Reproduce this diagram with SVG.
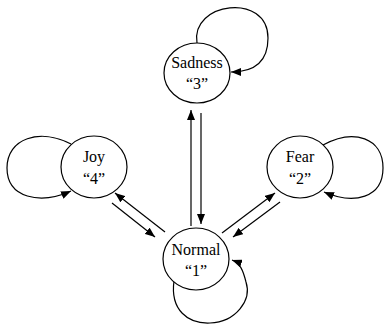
<svg xmlns="http://www.w3.org/2000/svg" width="385" height="326" viewBox="0 0 385 326">
<style>
.node{fill:#fff;stroke:#000;stroke-width:1.2}
.t{font-size:16px;fill:#000;text-anchor:middle}
.c{fill:none;stroke:#000;stroke-width:1.2}
</style>
<defs>
<marker id="a" viewBox="0 0 10 8" refX="10" refY="4" markerWidth="10" markerHeight="8" markerUnits="userSpaceOnUse" orient="auto">
<path d="M0,0L10,4L0,8z" fill="#000"/>
</marker>
</defs>
<rect width="385" height="326" fill="#fff"/>
<g id="connectors">
<path class="c" d="M197,43 C190,2 268,-8 268,38 C268,65 250,72 231,72" marker-end="url(#a)"/>
<path class="c" d="M71,144 C40,128 7,138 7,168 C7,198 40,205 71,191" marker-end="url(#a)"/>
<path class="c" d="M323,145 C354,128 383,138 383,168 C383,198 354,205 324,192" marker-end="url(#a)"/>
<path class="c" d="M174,281 C170,310 188,324 210,323 C236,322 252,300 246,282 C243,270 240,263 232,260" marker-end="url(#a)"/>
<line class="c" x1="191" y1="226" x2="191" y2="110" marker-end="url(#a)"/>
<line class="c" x1="201" y1="113" x2="201" y2="224" marker-end="url(#a)"/>
<line class="c" x1="165" y1="232" x2="115" y2="193" marker-end="url(#a)"/>
<line class="c" x1="112" y1="203" x2="155" y2="237" marker-end="url(#a)"/>
<line class="c" x1="222" y1="233" x2="275" y2="193" marker-end="url(#a)"/>
<line class="c" x1="280" y1="202" x2="233" y2="237" marker-end="url(#a)"/>
</g>
<g id="sadness">
<ellipse class="node" cx="197" cy="73" rx="33" ry="30"/>
<text class="t" x="197" y="68" style="font-family:'Liberation Serif',serif">Sadness</text>
<text class="t" x="197" y="89" style="font-family:'Liberation Serif',serif">“3”</text>
</g>
<g id="joy">
<ellipse class="node" cx="94" cy="167" rx="33" ry="31"/>
<text class="t" x="94" y="162" style="font-family:'Liberation Serif',serif">Joy</text>
<text class="t" x="94" y="184" style="font-family:'Liberation Serif',serif">“4”</text>
</g>
<g id="fear">
<ellipse class="node" cx="300" cy="167" rx="33" ry="31"/>
<text class="t" x="300" y="162" style="font-family:'Liberation Serif',serif">Fear</text>
<text class="t" x="300" y="184" style="font-family:'Liberation Serif',serif">“2”</text>
</g>
<g id="normal">
<ellipse class="node" cx="196" cy="259" rx="33" ry="31"/>
<text class="t" x="196" y="255" style="font-family:'Liberation Serif',serif">Normal</text>
<text class="t" x="196" y="276" style="font-family:'Liberation Serif',serif">“1”</text>
</g>
</svg>
